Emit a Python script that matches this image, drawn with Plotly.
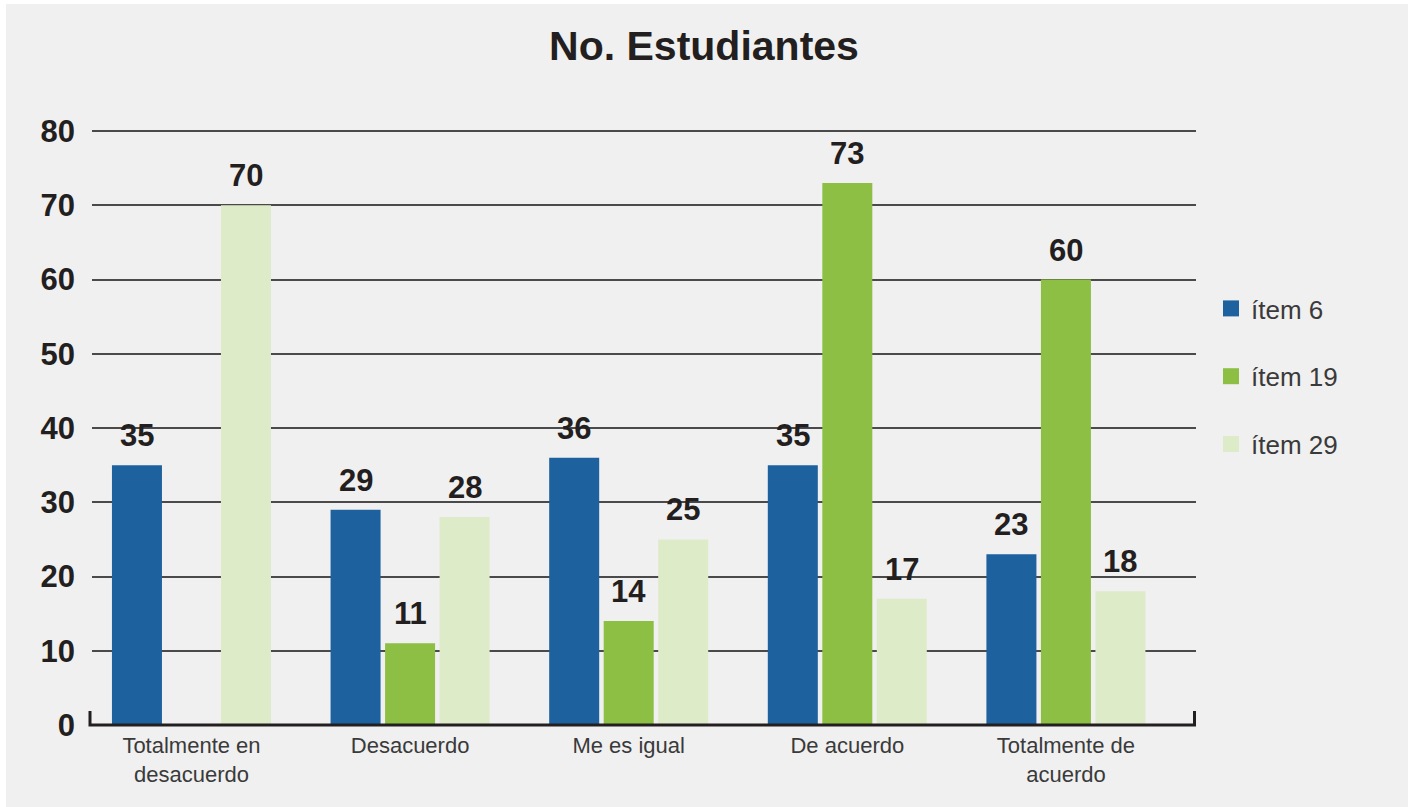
import plotly.graph_objects as go

# Survey answers and number of students per item
categories = ["Totalmente en<br>desacuerdo", "Desacuerdo", "Me es igual",
              "De acuerdo", "Totalmente de<br>acuerdo"]
series_names = ["ítem 6", "ítem 19", "ítem 29"]
item6 = [35, 29, 36, 35, 23]
item19 = [None, 11, 14, 73, 60]
item29 = [70, 28, 25, 17, 18]
y_ticks = [0, 10, 20, 30, 40, 50, 60, 70, 80]

colors = ["#1d619e", "#8dbf45", "#ddebc8"]
series_values = [item6, item19, item29]

W, H = 1408, 807
M_L, M_R, M_T, M_B = 92, 212, 129, 82
plot_w = W - M_L - M_R
plot_h = H - M_T - M_B
y_range = [0, 80.27]
x_range = [-0.455, 4.595]
bargap = 0.252
bargroupgap = 0.0826
cat_px = plot_w / (x_range[1] - x_range[0])
slot_px = cat_px * (1 - bargap) / len(series_names)

fig = go.Figure()

for name, vals, col in zip(series_names, series_values, colors):
    fig.add_trace(go.Bar(
        x=categories, y=vals, name=name, marker_color=col,
        marker_line_width=0, showlegend=False,
    ))
    # legend swatch
    fig.add_trace(go.Scatter(
        x=[None], y=[None], mode="markers", name=name, legendgroup=name,
        marker=dict(symbol="square", size=16, color=col, line_width=0),
    ))

# value labels above each bar
annotations = []
for k, (vals, col) in enumerate(zip(series_values, colors)):
    for cat, v in zip(categories, vals):
        if v is None:
            continue
        annotations.append(dict(
            x=cat, y=v, xref="x", yref="y", text=str(v), showarrow=False,
            xanchor="center", yanchor="bottom",
            xshift=(k - 1) * slot_px, yshift=10,
            font=dict(family="Liberation Sans", size=31, color="#231f20",
                      weight="bold"),
        ))

shapes = [
    # page background panel
    dict(type="rect", xref="paper", yref="paper", layer="below",
         x0=(6 - M_L) / plot_w, x1=(W - M_L) / plot_w,
         y0=-(M_B) / plot_h, y1=(H - M_B - 4) / plot_h,
         fillcolor="#f0f0f0", line_width=0),
    # baseline with end ticks
    dict(type="path", xref="paper", yref="paper", layer="above",
         path="M {a},{t} L {a},0 L {b},0 L {b},{t}".format(
             a=-2 / plot_w, b=1 - 1.5 / plot_w, t=14 / plot_h),
         line=dict(color="#231f20", width=3)),
]

fig.update_layout(
    width=W, height=H,
    margin=dict(l=M_L, r=M_R, t=M_T, b=M_B),
    paper_bgcolor="white", plot_bgcolor="rgba(0,0,0,0)",
    barmode="group", bargap=bargap, bargroupgap=bargroupgap,
    title=dict(text="<b>No. Estudiantes</b>", x=0.5, xref="container",
               y=1 - 46 / H, yanchor="middle",
               font=dict(family="Liberation Sans", size=41, color="#231f20")),
    xaxis=dict(range=x_range, showgrid=False, zeroline=False, showline=False,
               ticks="", ticklabelstandoff=5,
               tickfont=dict(family="Liberation Sans", size=22, color="#3a3a3a")),
    yaxis=dict(range=y_range, tickvals=y_ticks, showgrid=True,
               gridcolor="#4a4a4a", gridwidth=1.6, zeroline=False,
               showline=False, ticks="", ticklabelstandoff=16,
               tickfont=dict(family="Liberation Sans", size=31, color="#231f20",
                             weight="bold")),
    legend=dict(x=(1211 - M_L) / plot_w, xanchor="left",
                y=(H - M_B - 285) / plot_h, yanchor="top",
                tracegroupgap=31, bgcolor="rgba(0,0,0,0)",
                font=dict(family="Liberation Sans", size=26, color="#3a3a3a")),
    annotations=annotations,
    shapes=shapes,
)

fig.write_html("out.html")
